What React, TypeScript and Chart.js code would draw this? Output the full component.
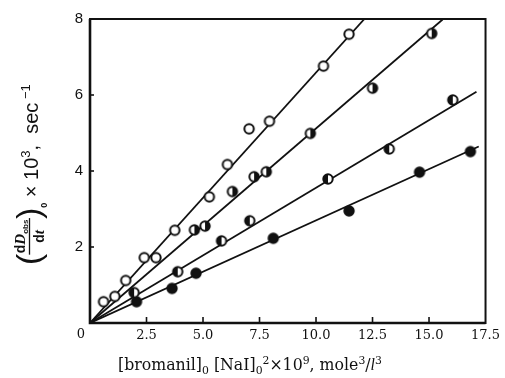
import React, { useEffect, useRef } from 'react';
import { Chart, registerables } from 'chart.js';

Chart.register(...registerables);

const xTickValues = [0, 2.5, 5, 7.5, 10, 12.5, 15, 17.5];
const yTickValues = [2, 4, 6, 8];

// series 1: open circles (steepest)
const s1X = [0.6, 1.1, 1.58, 2.4, 2.92, 3.75, 5.28, 6.08, 7.04, 7.94, 10.33, 11.46];
const s1Y = [0.56, 0.7, 1.12, 1.72, 1.72, 2.44, 3.32, 4.17, 5.11, 5.31, 6.76, 7.6];
// series 2: right-half filled circles
const s2X = [4.62, 5.09, 6.3, 7.26, 7.8, 9.75, 12.5, 15.12];
const s2Y = [2.45, 2.55, 3.46, 3.85, 3.98, 4.99, 6.18, 7.62];
// series 3: left-half filled circles
const s3X = [1.95, 3.88, 5.82, 7.07, 10.53, 13.24, 16.05];
const s3Y = [0.8, 1.35, 2.16, 2.69, 3.79, 4.58, 5.87];
// series 4: filled circles
const s4X = [2.06, 3.63, 4.69, 8.11, 11.46, 14.58, 16.83];
const s4Y = [0.56, 0.91, 1.31, 2.23, 2.95, 3.97, 4.51];

// fitted straight lines through the origin
const fitSlopes = [0.659, 0.512, 0.356, 0.27];
const fitEnds = [12.14, 15.6, 17.1, 17.2];

const markerKinds = ['open', 'right', 'left', 'filled'];

function makeMarker(kind: string): HTMLCanvasElement {
  const c = document.createElement('canvas');
  c.width = 14;
  c.height = 14;
  const g = c.getContext('2d') as CanvasRenderingContext2D;
  const r = 4.7;
  g.beginPath();
  g.arc(7, 7, r, 0, Math.PI * 2);
  g.fillStyle = kind === 'filled' ? '#111' : '#fff';
  g.fill();
  g.fillStyle = '#111';
  if (kind === 'right') {
    g.beginPath();
    g.arc(7, 7, r, -Math.PI / 2, Math.PI / 2);
    g.closePath();
    g.fill();
  } else if (kind === 'left') {
    g.beginPath();
    g.arc(7, 7, r, Math.PI / 2, (Math.PI * 3) / 2);
    g.closePath();
    g.fill();
  }
  g.beginPath();
  g.arc(7, 7, r, 0, Math.PI * 2);
  g.lineWidth = 2;
  g.strokeStyle = '#111';
  g.stroke();
  return c;
}

type Run = { t: string; size: number; family: string; style?: string; weight?: string; dy?: number };

function runFont(r: Run) {
  return `${r.style || 'normal'} ${r.weight || 'normal'} ${r.size}px ${r.family}`;
}
function measureRuns(ctx: CanvasRenderingContext2D, runs: Run[], scale = 1) {
  let w = 0;
  for (const r of runs) {
    ctx.font = runFont({ ...r, size: r.size * scale });
    w += ctx.measureText(r.t).width;
  }
  return w;
}
function drawRuns(ctx: CanvasRenderingContext2D, runs: Run[], x: number, y: number, scale = 1) {
  let cx = x;
  ctx.textAlign = 'left';
  ctx.textBaseline = 'alphabetic';
  for (const r of runs) {
    ctx.font = runFont({ ...r, size: r.size * scale });
    ctx.fillText(r.t, cx, y + (r.dy || 0) * scale);
    cx += ctx.measureText(r.t).width;
  }
  return cx;
}

const SERIF = "'DejaVu Serif', serif";
const SANS = "'Liberation Sans', Arial, sans-serif";
const TSERIF = "'Liberation Serif', serif";

const decorPlugin = {
  id: 'decor',
  afterDraw(chart: any) {
    const ctx: CanvasRenderingContext2D = chart.ctx;
    const { left, right, top, bottom } = chart.chartArea;
    const xs = chart.scales.x;
    const ys = chart.scales.y;
    ctx.save();
    ctx.strokeStyle = '#111';
    ctx.fillStyle = '#111';
    // frame
    ctx.lineWidth = 2;
    ctx.strokeRect(left, top, right - left, bottom - top);
    ctx.lineWidth = 2.6;
    ctx.beginPath();
    ctx.moveTo(left, top);
    ctx.lineTo(left, bottom);
    ctx.lineTo(right, bottom);
    ctx.stroke();
    // inward ticks
    ctx.lineWidth = 1.6;
    for (const v of xTickValues) {
      if (v <= 0 || v >= 17.5) continue;
      const px = xs.getPixelForValue(v);
      ctx.beginPath();
      ctx.moveTo(px, bottom);
      ctx.lineTo(px, bottom - 6);
      ctx.stroke();
    }
    for (const v of yTickValues) {
      if (v >= 8) continue;
      const py = ys.getPixelForValue(v);
      ctx.beginPath();
      ctx.moveTo(left, py);
      ctx.lineTo(left + 4, py);
      ctx.stroke();
    }
    // shared origin label
    ctx.font = `13px ${SERIF}`;
    ctx.textAlign = 'center';
    ctx.textBaseline = 'top';
    ctx.fillText('0', left - 9, bottom + 5);

    // x-axis title
    const xRuns: Run[] = [
      { t: '[bromanil]', size: 16, family: SERIF },
      { t: '0', size: 11, family: SERIF, dy: 4 },
      { t: ' [NaI]', size: 16, family: SERIF },
      { t: '0', size: 11, family: SERIF, dy: 4 },
      { t: '2', size: 11, family: SERIF, dy: -6 },
      { t: '\u00d710', size: 16, family: SERIF },
      { t: '9', size: 11, family: SERIF, dy: -6 },
      { t: ', mole', size: 16, family: SERIF },
      { t: '3', size: 11, family: SERIF, dy: -6 },
      { t: '/', size: 16, family: SERIF },
      { t: 'l', size: 16, family: TSERIF, style: 'italic' },
      { t: '3', size: 11, family: SERIF, dy: -6 },
    ];
    const targetW = 264;
    const w0 = measureRuns(ctx, xRuns, 1);
    const sc = targetW / w0;
    drawRuns(ctx, xRuns, 118, 370, sc);

    // y-axis title, rotated
    ctx.save();
    ctx.rotate(-Math.PI / 2);
    // in rotated frame: a = -screenY, b = screenX
    ctx.font = `34px ${SANS}`;
    ctx.textBaseline = 'alphabetic';
    ctx.textAlign = 'left';
    let a = -265;
    ctx.fillText('(', a, 40);
    a += ctx.measureText('(').width - 1;
    const numRuns: Run[] = [
      { t: 'd', size: 14, family: SANS, weight: 'bold' },
      { t: 'D', size: 15, family: TSERIF, style: 'italic', weight: 'bold' },
      { t: 'obs', size: 8, family: SANS, weight: 'bold', dy: 3 },
    ];
    const denRuns: Run[] = [
      { t: 'd', size: 14, family: SANS, weight: 'bold' },
      { t: 't', size: 15, family: TSERIF, style: 'italic', weight: 'bold' },
    ];
    const nw = measureRuns(ctx, numRuns);
    const dw = measureRuns(ctx, denRuns);
    const fw = Math.max(nw, dw) + 3;
    drawRuns(ctx, numRuns, a + (fw - nw) / 2, 25);
    drawRuns(ctx, denRuns, a + (fw - dw) / 2, 44);
    ctx.lineWidth = 1.3;
    ctx.beginPath();
    ctx.moveTo(a, 29.5);
    ctx.lineTo(a + fw, 29.5);
    ctx.stroke();
    a += fw - 1;
    ctx.font = `34px ${SANS}`;
    ctx.fillText(')', a, 40);
    a += ctx.measureText(')').width;
    a = drawRuns(ctx, [{ t: '0', size: 9, family: SANS, weight: 'bold' }], a, 47);
    const restRuns: Run[] = [
      { t: ' \u00d7 10', size: 20, family: SANS },
      { t: '3', size: 13, family: SANS, dy: -8 },
      { t: ',  sec', size: 20, family: SANS },
      { t: ' \u22121', size: 13, family: SANS, dy: -8 },
    ];
    drawRuns(ctx, restRuns, a, 38);
    ctx.restore();

    ctx.restore();
  },
};

export default function App() {
  const ref = useRef<HTMLCanvasElement | null>(null);
  useEffect(() => {
    if (!ref.current) return;
    const seriesX = [s1X, s2X, s3X, s4X];
    const seriesY = [s1Y, s2Y, s3Y, s4Y];
    const pointSets = seriesX.map((xsArr, i) => ({
      type: 'scatter' as const,
      label: `series ${i + 1}`,
      data: xsArr.map((x, j) => ({ x, y: seriesY[i][j] })),
      pointStyle: makeMarker(markerKinds[i]),
      pointRadius: 5,
      showLine: false,
      order: 0,
    }));
    const lineSets = fitSlopes.map((k, i) => ({
      type: 'scatter' as const,
      label: `fit ${i + 1}`,
      data: [
        { x: 0, y: 0 },
        { x: fitEnds[i], y: k * fitEnds[i] },
      ],
      showLine: true,
      borderColor: '#111',
      borderWidth: 1.8,
      pointRadius: 0,
      order: 1,
    }));
    const chart = new Chart(ref.current, {
      type: 'scatter',
      data: { datasets: [...pointSets, ...lineSets] as any },
      options: {
        animation: false,
        responsive: false,
        layout: { padding: { top: 19, right: 17, left: 0, bottom: 0 } },
        plugins: { legend: { display: false }, tooltip: { enabled: false } },
        scales: {
          x: {
            type: 'linear',
            min: 0,
            max: 17.5,
            afterFit: (s: any) => {
              s.height = 55;
            },
            afterBuildTicks: (s: any) => {
              s.ticks = xTickValues.map((v) => ({ value: v }));
            },
            grid: { display: false, drawTicks: false },
            border: { display: false },
            ticks: {
              padding: 5,
              color: '#111',
              font: { family: "'DejaVu Serif', serif", size: 13 },
              maxRotation: 0,
              callback: (v: any) => (Number(v) === 0 ? '' : Number(v).toFixed(1)),
            },
          },
          y: {
            type: 'linear',
            min: 0,
            max: 8,
            afterFit: (s: any) => {
              s.width = 90;
            },
            afterBuildTicks: (s: any) => {
              s.ticks = yTickValues.map((v) => ({ value: v }));
            },
            grid: { display: false, drawTicks: false },
            border: { display: false },
            ticks: {
              padding: 7,
              color: '#111',
              font: { family: "'Liberation Sans', Arial, sans-serif", size: 15 },
              callback: (v: any) => String(v),
            },
          },
        },
      },
      plugins: [decorPlugin],
    });
    return () => chart.destroy();
  }, []);
  return (
    <div style={{ position: 'absolute', left: 0, top: 0, width: 505, height: 378, background: '#fff' }}>
      <canvas ref={ref} width={505} height={378} style={{ display: 'block' }} />
    </div>
  );
}
